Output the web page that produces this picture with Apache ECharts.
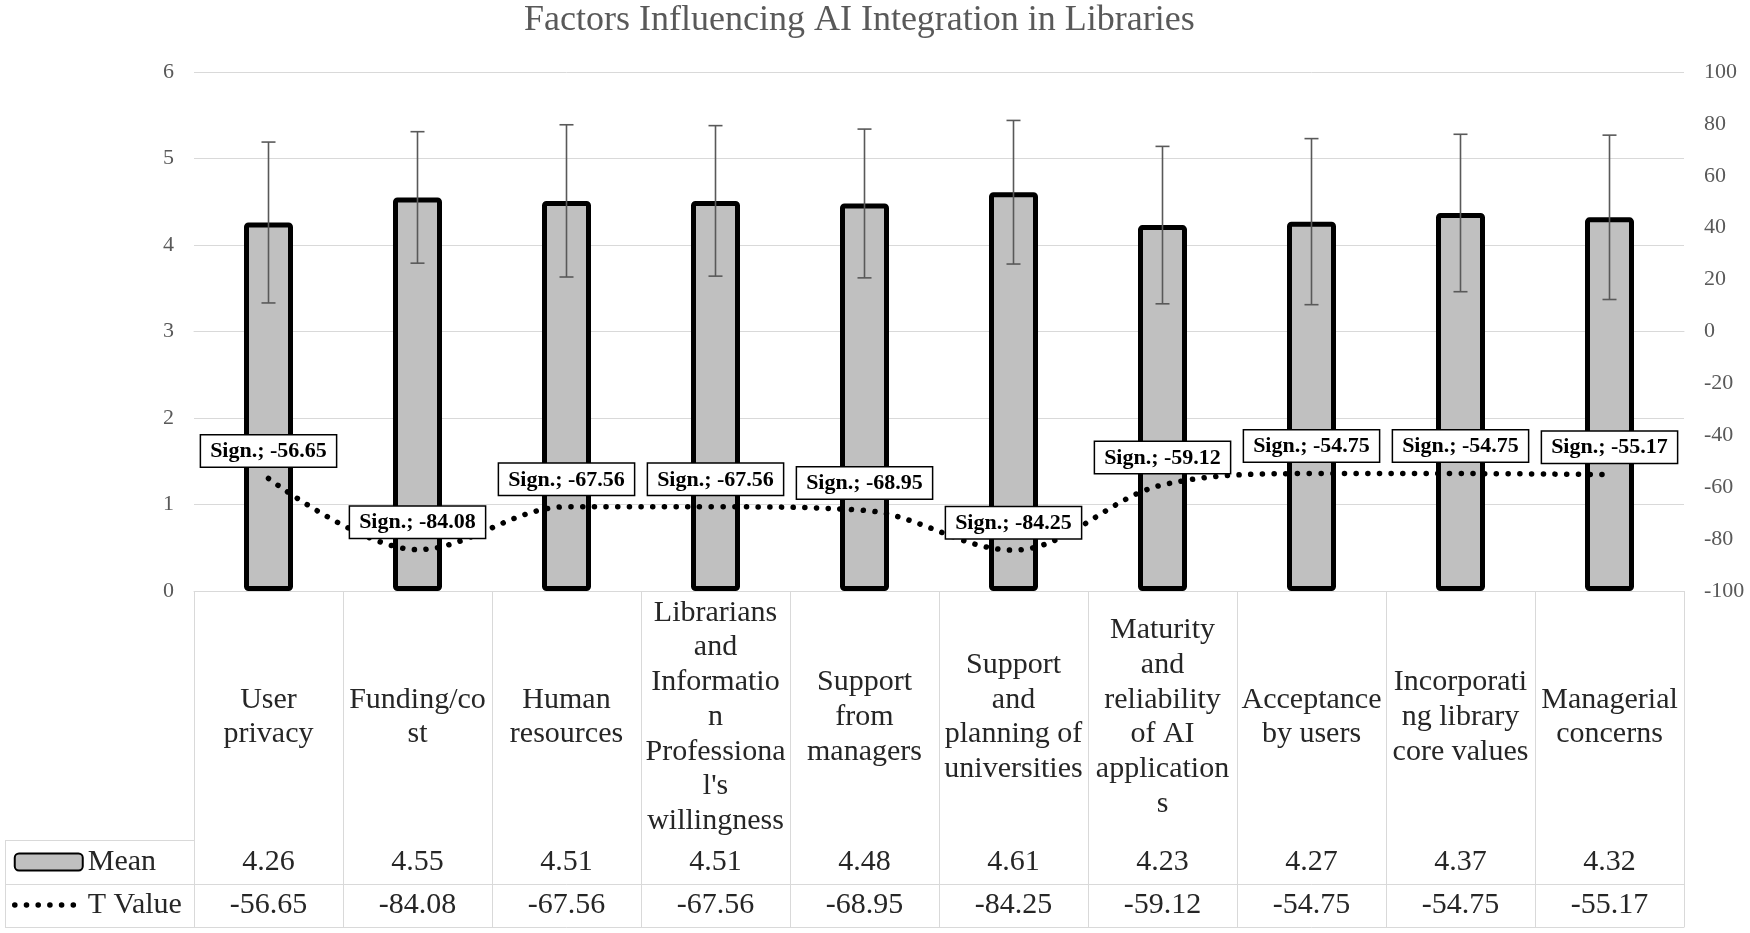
<!DOCTYPE html>
<html>
<head>
<meta charset="utf-8">
<script src="https://cdn.jsdelivr.net/npm/echarts@6/dist/echarts.min.js"></script>
<style>html,body{margin:0;padding:0;background:#fff}#c{width:1750px;height:933px}</style>
</head>
<body>
<div id="c"></div>
<script>
// ---- data ----
const categories = [
  'User\nprivacy',
  'Funding/co\nst',
  'Human\nresources',
  'Librarians\nand\nInformatio\nn\nProfessiona\nl\'s\nwillingness',
  'Support\nfrom\nmanagers',
  'Support\nand\nplanning of\nuniversities',
  'Maturity\nand\nreliability\nof AI\napplication\ns',
  'Acceptance\nby users',
  'Incorporati\nng library\ncore values',
  'Managerial\nconcerns'
];
const means = [4.26, 4.55, 4.51, 4.51, 4.48, 4.61, 4.23, 4.27, 4.37, 4.32];
const sds = [0.93, 0.76, 0.88, 0.87, 0.86, 0.83, 0.91, 0.96, 0.91, 0.95];
const tValues = [-56.65, -84.08, -67.56, -67.56, -68.95, -84.25, -59.12, -54.75, -54.75, -55.17];
const seriesNames = ['Mean', 'T Value'];
const labelPrefix = 'Sign.; ';
const titleText = 'Factors Influencing AI Integration in Libraries';

// ---- chart ----
const FONT = "'Liberation Serif', 'Times New Roman', serif";
const GRID = '#d9d9d9';
const chart = echarts.init(document.getElementById('c'));

const tableAxis = (offset, labelFn, margin) => ({
  type: 'category', data: categories, gridIndex: 0, position: 'bottom', offset: offset,
  axisLine: {show: true, lineStyle: {color: GRID, width: 1}},
  axisTick: {show: false},
  splitLine: {show: false},
  axisPointer: {show: false},
  axisLabel: labelFn ? {
    show: true, interval: 0, margin: margin, verticalAlign: 'middle',
    fontFamily: FONT, fontSize: 30, color: '#262626', formatter: labelFn
  } : {show: false}
});

chart.setOption({
  animation: false,
  title: {
    text: titleText, left: 524, top: 3, padding: 0,
    textStyle: {fontFamily: FONT, fontSize: 36, fontWeight: 'normal', color: '#595959'}
  },
  legend: {
    data: seriesNames, orient: 'vertical', left: 12, top: 847, padding: 0,
    itemWidth: 68, itemHeight: 17, itemGap: 13,
    lineStyle: {width: 5.5},
    textStyle: {fontFamily: FONT, fontSize: 30, lineHeight: 30, color: '#262626'},
    selectedMode: false
  },
  grid: {left: 194, right: 66, top: 72, bottom: 342, containLabel: false},
  xAxis: [
    {
      type: 'category', data: categories, gridIndex: 0, position: 'bottom',
      axisLine: {show: true, lineStyle: {color: GRID, width: 1}},
      axisTick: {show: true, length: 336, alignWithLabel: false, lineStyle: {color: GRID, width: 1}},
      splitLine: {show: false},
      axisLabel: {
        interval: 0, margin: 126, verticalAlign: 'middle', align: 'center',
        fontFamily: FONT, fontSize: 30, lineHeight: 34.7, color: '#262626'
      }
    },
    tableAxis(249, (v, i) => means[i].toFixed(2), 22),
    tableAxis(293, (v, i) => tValues[i].toFixed(2), 21),
    tableAxis(336, null, 0)
  ],
  yAxis: [
    {
      type: 'value', min: 0, max: 6, interval: 1,
      axisLine: {show: false}, axisTick: {show: false},
      splitLine: {show: true, lineStyle: {color: GRID, width: 1}},
      axisLabel: {margin: 20, fontFamily: FONT, fontSize: 22, color: '#595959'}
    },
    {
      type: 'value', position: 'right', min: -100, max: 100, interval: 20,
      axisLine: {show: false}, axisTick: {show: false},
      splitLine: {show: false},
      axisLabel: {margin: 20, fontFamily: FONT, fontSize: 22, color: '#595959'}
    }
  ],
  graphic: [
    {type: 'line', shape: {x1: 5, y1: 840.5, x2: 194, y2: 840.5}, style: {stroke: GRID, lineWidth: 1}},
    {type: 'line', shape: {x1: 5, y1: 884.5, x2: 194, y2: 884.5}, style: {stroke: GRID, lineWidth: 1}},
    {type: 'line', shape: {x1: 5, y1: 927.5, x2: 194, y2: 927.5}, style: {stroke: GRID, lineWidth: 1}},
    {type: 'line', shape: {x1: 5.5, y1: 840, x2: 5.5, y2: 927.5}, style: {stroke: GRID, lineWidth: 1}}
  ],
  series: [
    {
      name: seriesNames[0], type: 'bar', data: means, barWidth: 49, z: 2,
      itemStyle: {color: '#c0c0c0', borderColor: '#000', borderWidth: 5, borderRadius: 2}
    },
    {
      name: 'err', type: 'custom', z: 3,
      data: means.map((m, i) => [i, m - sds[i], m + sds[i]]),
      encode: {x: 0, y: [1, 2]},
      renderItem: (params, api) => {
        const lo = api.coord([api.value(0), api.value(1)]);
        const hi = api.coord([api.value(0), api.value(2)]);
        const h = 7;
        const st = {stroke: '#595959', lineWidth: 1.6};
        return {type: 'group', children: [
          {type: 'line', shape: {x1: hi[0], y1: hi[1], x2: lo[0], y2: lo[1]}, style: st},
          {type: 'line', shape: {x1: hi[0] - h, y1: hi[1], x2: hi[0] + h, y2: hi[1]}, style: st},
          {type: 'line', shape: {x1: lo[0] - h, y1: lo[1], x2: lo[0] + h, y2: lo[1]}, style: st}
        ]};
      }
    },
    {
      name: seriesNames[1], type: 'line', yAxisIndex: 1, data: tValues, smooth: 0.35, z: 4,
      symbol: 'circle', symbolSize: 2,
      itemStyle: {color: 'rgba(0,0,0,0)'},
      lineStyle: {color: '#000', width: 5.5, type: [0.1, 11.6], cap: 'round'},
      label: {
        show: true, position: 'top', distance: 11,
        formatter: p => labelPrefix + Number(p.value).toFixed(2),
        fontFamily: FONT, fontSize: 22, fontWeight: 'bold', color: '#000',
        backgroundColor: '#fff', borderColor: '#000', borderWidth: 1.5,
        padding: [5, 9, 4, 9]
      }
    }
  ]
});
</script>
</body>
</html>
